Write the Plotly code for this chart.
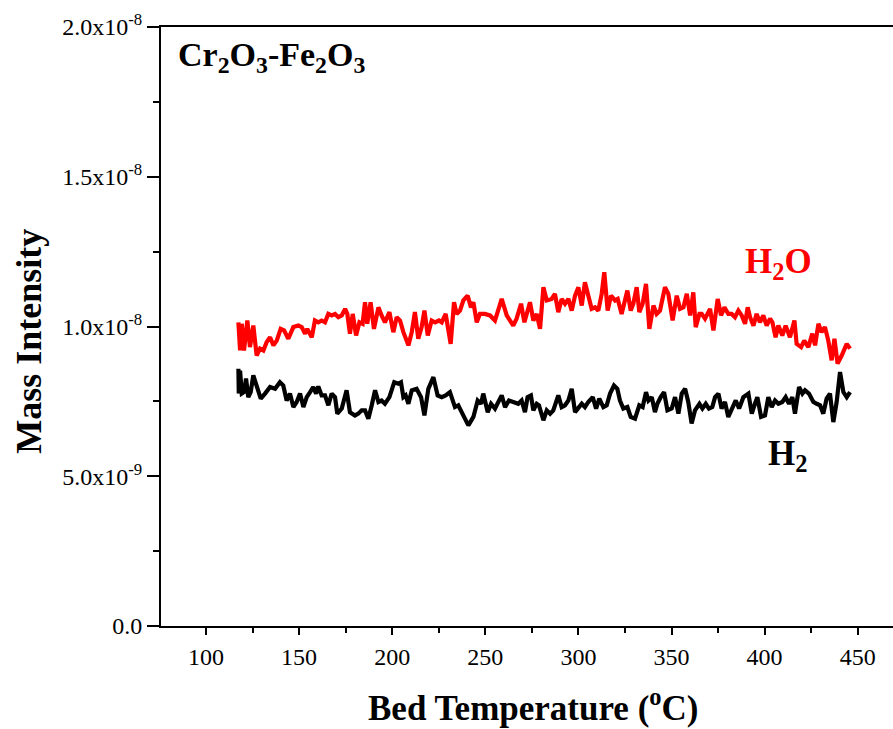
import numpy as np
import plotly.graph_objects as go

# ---- data (Mass intensity in units of 1e-8) ----
h2o_temp = [117.4, 118.3, 119.2, 120.4, 122.2, 123.6, 125.4, 127.2, 129.0, 130.8, 132.6, 134.4, 136.2, 138.0,
            140.1, 141.9, 144.2, 146.9, 149.6, 151.4, 153.2, 154.4, 156.8, 158.5, 160.3, 162.1, 163.9, 165.7,
            167.5, 169.3, 171.1, 172.9, 174.7, 175.9, 177.3, 178.8, 180.6, 182.4, 184.1, 185.4, 186.6, 188.4,
            190.2, 192.6, 194.3, 196.1, 198.5,
            200.6, 202.4, 204.2, 206.0, 208.7, 210.5, 212.2, 214.0, 215.8, 217.3, 219.1, 221.2, 223.0, 225.1,
            226.6, 228.7, 231.4, 233.2, 234.6, 236.4, 238.2, 240.5, 242.3, 243.6, 245.4, 247.1, 249.8, 252.5,
            255.2, 258.8, 261.5, 265.0, 266.8, 269.2, 271.0, 274.0, 275.8, 277.6, 279.4, 281.2,
            283.0, 285.6, 287.4, 289.2, 291.0, 292.8, 294.6, 296.4, 298.2, 300.0, 301.8, 303.5, 305.3, 307.1,
            308.9, 310.7, 312.5, 313.9, 315.7, 317.5, 319.7, 321.1, 323.2, 326.3, 328.1, 329.5, 331.3, 332.7,
            334.5, 336.3, 338.1, 340.3, 342.0, 343.8, 346.5, 348.3, 350.6, 352.8, 354.6, 356.4, 358.2, 360.0,
            361.7, 363.0, 365.0,
            366.2, 368.0, 370.7, 372.5, 374.8, 376.6, 378.4, 380.5, 382.3, 384.1, 385.9, 387.7, 389.5, 390.9,
            392.2, 394.0, 395.7, 397.5, 399.3, 401.1, 402.9, 404.2, 405.9, 407.4, 409.5, 411.3, 413.6, 416.0,
            417.2, 419.6, 421.3, 423.5, 425.6, 427.1, 428.9, 430.6, 432.4, 434.2, 436.0, 437.5, 439.2, 441.4,
            444.1, 445.9]
h2o_val = [1.014, 0.920, 1.009, 0.920, 1.020, 0.931, 1.003, 0.903, 0.926, 0.920, 0.948, 0.964, 0.937, 0.953,
           0.992, 0.987, 0.959, 0.998, 1.003, 0.998, 0.976, 0.992, 0.964, 1.020, 1.014, 1.020, 1.014, 1.042,
           1.037, 1.042, 1.031, 1.037, 1.059, 1.042, 0.976, 1.042, 0.970, 1.014, 1.009, 1.081, 1.009, 1.081,
           0.992, 1.064, 1.037, 1.014, 1.048,
           0.981, 1.031, 1.020, 0.981, 0.937, 0.981, 1.048, 0.959, 0.998, 1.053, 0.970, 1.020, 1.014, 1.020,
           1.014, 1.042, 0.942, 1.081, 1.042, 1.053, 1.087, 1.103, 1.064, 1.081, 1.014, 1.042, 1.042, 1.037,
           1.020, 1.092, 1.037, 1.003, 1.026, 1.076, 1.014, 1.081, 1.020, 1.042, 0.992, 1.131,
           1.087, 1.092, 1.109, 1.048, 1.092, 1.076, 1.092, 1.053, 1.103, 1.131, 1.070, 1.148, 1.109, 1.059,
           1.064, 1.053, 1.109, 1.181, 1.053, 1.103, 1.087, 1.092, 1.042, 1.120, 1.053, 1.076, 1.131, 1.048,
           1.076, 1.142, 0.992, 1.070, 1.042, 1.053, 1.131, 1.109, 1.020, 1.103, 1.059, 1.064, 1.109, 1.037,
           1.114, 0.998, 1.042,
           1.042, 1.026, 1.059, 0.987, 1.092, 1.037, 1.064, 1.042, 1.042, 1.031, 1.053, 1.037, 1.009, 1.064,
           1.031, 1.003, 1.042, 1.014, 1.037, 1.003, 1.026, 1.014, 0.964, 1.003, 0.970, 1.003, 0.964, 1.020,
           0.942, 0.931, 0.953, 0.931, 0.976, 0.937, 1.009, 0.981, 0.998, 0.953, 0.887, 0.959, 0.876, 0.903,
           0.942, 0.926]

h2_temp = [117.4, 117.6, 118.3, 119.2, 120.4, 121.5, 122.7, 124.0, 125.4, 127.2, 129.4, 131.7, 134.4, 137.1,
           139.7, 141.5, 143.3, 145.1, 146.9, 148.7, 150.5, 152.3, 154.1, 155.9, 157.6, 159.1, 160.3, 162.1,
           163.9, 165.7, 167.5, 169.3, 170.5, 172.9, 175.5, 177.3, 180.0, 181.8, 183.6, 185.4, 187.2, 189.0,
           190.8, 192.6, 194.3, 196.1, 198.5,
           201.1, 203.3, 204.7, 206.0, 207.2, 208.7, 210.5, 213.1, 215.5, 217.3, 219.4, 222.1, 224.4, 226.6,
           228.7, 231.0, 233.7, 235.5, 237.7, 240.9, 243.6, 245.9, 247.7, 248.9, 251.3, 253.1, 255.2, 257.0,
           258.8, 260.6, 262.7, 265.0, 267.7, 269.5, 271.3, 272.7, 274.5, 275.8, 277.6, 278.8, 281.2,
           283.0, 284.8, 286.5, 289.2, 291.0, 292.8, 294.6, 296.4, 298.2, 300.0, 301.8, 303.5, 305.3, 307.7,
           309.5, 311.2, 313.4, 315.2, 317.0, 319.1, 320.9, 322.3, 324.1, 326.3, 328.1, 330.4, 332.7, 334.5,
           336.3, 337.6, 339.4, 341.1, 342.4, 344.2, 346.0, 347.8, 350.1, 351.9, 353.7, 355.5, 357.3, 359.0,
           360.8, 362.6, 365.0,
           366.6, 368.4, 370.1, 371.9, 373.4, 375.2, 376.9, 378.7, 380.5, 382.7, 384.5, 386.3, 388.6, 391.3,
           393.1, 394.8, 396.1, 398.1, 400.2, 402.0, 403.8, 405.6, 407.4, 409.5, 411.3, 413.1, 414.9, 416.3,
           418.5, 420.3, 421.7, 423.8, 426.2, 428.0, 429.8, 431.5, 433.3, 435.1, 436.9, 438.7, 440.5, 442.3,
           444.1, 445.9]
h2_val = [0.859, 0.776, 0.853, 0.776, 0.781, 0.826, 0.764, 0.781, 0.837, 0.798, 0.759, 0.776, 0.798, 0.792,
          0.814, 0.803, 0.753, 0.776, 0.731, 0.748, 0.776, 0.731, 0.764, 0.781, 0.798, 0.776, 0.800, 0.770,
          0.770, 0.737, 0.776, 0.764, 0.709, 0.726, 0.787, 0.714, 0.703, 0.709, 0.720, 0.720, 0.692, 0.737,
          0.787, 0.748, 0.753, 0.742, 0.764,
          0.814, 0.809, 0.814, 0.764, 0.770, 0.742, 0.787, 0.792, 0.764, 0.703, 0.792, 0.831, 0.770, 0.764,
          0.770, 0.781, 0.731, 0.737, 0.709, 0.670, 0.698, 0.753, 0.742, 0.776, 0.714, 0.742, 0.726, 0.748,
          0.770, 0.731, 0.753, 0.748, 0.742, 0.753, 0.714, 0.764, 0.770, 0.720, 0.742, 0.737, 0.687,
          0.720, 0.709, 0.720, 0.770, 0.731, 0.737, 0.753, 0.792, 0.714, 0.731, 0.742, 0.731, 0.748, 0.764,
          0.726, 0.759, 0.731, 0.737, 0.776, 0.803, 0.792, 0.753, 0.726, 0.731, 0.698, 0.692, 0.737, 0.731,
          0.781, 0.753, 0.764, 0.714, 0.742, 0.764, 0.781, 0.720, 0.726, 0.764, 0.709, 0.776, 0.792, 0.748,
          0.676, 0.720, 0.742,
          0.726, 0.742, 0.726, 0.731, 0.764, 0.776, 0.726, 0.748, 0.698, 0.731, 0.753, 0.726, 0.764, 0.776,
          0.709, 0.742, 0.764, 0.698, 0.703, 0.764, 0.731, 0.753, 0.742, 0.748, 0.764, 0.742, 0.764, 0.709,
          0.798, 0.776, 0.787, 0.776, 0.748, 0.742, 0.737, 0.709, 0.759, 0.776, 0.681, 0.748, 0.848, 0.781,
          0.764, 0.781]

y_tickvals = [0.0, 0.5e-8, 1.0e-8, 1.5e-8, 2.0e-8]
y_ticktext = ["0.0", "5.0x10<sup>-9</sup>", "1.0x10<sup>-8</sup>", "1.5x10<sup>-8</sup>", "2.0x10<sup>-8</sup>"]
x_tickvals = [100, 150, 200, 250, 300, 350, 400, 450]

SCALE = 1e-8
FONT = "Liberation Serif, Times New Roman, serif"

fig = go.Figure()
fig.add_trace(go.Scatter(x=h2o_temp, y=np.array(h2o_val) * SCALE, mode="lines",
                         line=dict(color="#ff0000", width=4.2), name="H2O"))
fig.add_trace(go.Scatter(x=h2_temp, y=np.array(h2_val) * SCALE, mode="lines",
                         line=dict(color="#000000", width=4.2), name="H2"))

fig.update_layout(
    width=893, height=729, autosize=False,
    margin=dict(l=161, r=0, t=27, b=103),
    paper_bgcolor="white", plot_bgcolor="white",
    showlegend=False,
    font=dict(family=FONT, color="black", size=24),
)
fig.update_xaxes(
    range=[75.83, 468.95], showgrid=False, zeroline=False,
    showline=True, linecolor="black", linewidth=2, mirror=True,
    ticks="outside", ticklen=7, tickwidth=2, tickcolor="black",
    tickvals=x_tickvals, tickfont=dict(family=FONT, size=24, color="black"),
    ticklabelstandoff=1,
    minor=dict(ticks="outside", ticklen=5, tickwidth=2, tickcolor="black", dtick=25, tick0=0),
)
fig.update_yaxes(
    range=[0, 2.0e-8], showgrid=False, zeroline=False,
    showline=True, linecolor="black", linewidth=2, mirror=False,
    ticks="outside", ticklen=12, tickwidth=2, tickcolor="black",
    tickvals=y_tickvals, ticktext=y_ticktext,
    tickfont=dict(family=FONT, size=24, color="black"),
    minor=dict(ticks="outside", ticklen=6, tickwidth=2, tickcolor="black", dtick=0.25e-8, tick0=0),
)

anns = [
    dict(text="<b>Cr<sub>2</sub>O<sub>3</sub>-Fe<sub>2</sub>O<sub>3</sub></b>", x=0.02, y=0.95,
         xanchor="left", yanchor="middle", font=dict(size=34, color="black")),
    dict(text="<b>H<sub>2</sub>O</b>", x=0.844, y=0.605, xanchor="center", yanchor="middle",
         font=dict(size=35, color="#ff0000")),
    dict(text="<b>H<sub>2</sub></b>", x=0.856, y=0.285, xanchor="center", yanchor="middle",
         font=dict(size=35, color="black")),
    dict(text="<b>Bed Temperature (<sup>o</sup>C)</b>", x=0.508, y=-0.132, xanchor="center",
         yanchor="middle", font=dict(size=35, color="black")),
    dict(text="<b>Mass Intensity</b>", x=-0.18, y=0.475, xanchor="center", yanchor="middle",
         textangle=-90, font=dict(size=36, color="black")),
]
for a in anns:
    fig.add_annotation(xref="paper", yref="paper", showarrow=False, font_family=FONT, **a)

fig.write_html("out.html")
